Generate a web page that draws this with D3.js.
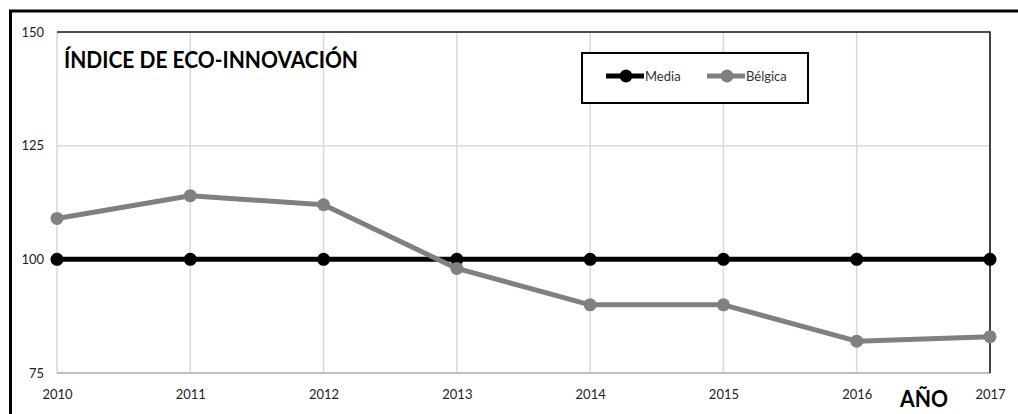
<!DOCTYPE html>
<html>
<head>
<meta charset="utf-8">
<script src="https://cdn.jsdelivr.net/npm/d3@7"></script>
<style>
  html, body { margin: 0; padding: 0; background: #fff; }
  svg { display: block; }
  text { font-family: Lato, "Open Sans", sans-serif; }
</style>
</head>
<body>
<svg id="chart" width="1018" height="414"></svg>
<script>
// Eco-innovation index, Belgium vs. average (=100)
const years = [2010, 2011, 2012, 2013, 2014, 2015, 2016, 2017];
const media = [100, 100, 100, 100, 100, 100, 100, 100];
const belgica = [109, 114, 112, 98, 90, 90, 82, 83];
const yTicks = [75, 100, 125, 150];
const seriesNames = ["Media", "Bélgica"];
const seriesColors = ["#000000", "#808080"];

const svg = d3.select("#chart");
const W = 1018, H = 414;

// outer frame (runs off right and bottom edge)
svg.append("path")
  .attr("d", `M10.5,${H + 5} V11 H${W + 5}`)
  .attr("fill", "none").attr("stroke", "#000").attr("stroke-width", 3);

const x = d3.scalePoint().domain(years).range([57, 990]);
const y = d3.scaleLinear().domain([75, 150]).range([373, 32]);

// gridlines
const grid = svg.append("g");
grid.selectAll("line.v").data(years).join("line")
  .attr("x1", d => x(d)).attr("x2", d => x(d))
  .attr("y1", y(150)).attr("y2", y(75))
  .attr("stroke", "#d9d9d9").attr("stroke-width", 1.5);
grid.selectAll("line.h").data(yTicks).join("line")
  .attr("x1", x(2010)).attr("x2", x(2017))
  .attr("y1", d => y(d)).attr("y2", d => y(d))
  .attr("stroke", "#d9d9d9").attr("stroke-width", 1.5);

// bottom axis line
svg.append("line")
  .attr("x1", x(2010)).attr("x2", x(2017))
  .attr("y1", y(75)).attr("y2", y(75))
  .attr("stroke", "#bfbfbf").attr("stroke-width", 2);
// top and right border of plot
svg.append("path")
  .attr("d", `M${x(2010)},${y(150)} H${x(2017)} V${y(75)}`)
  .attr("fill", "none").attr("stroke", "#1a1a1a").attr("stroke-width", 1.6);

// y-axis labels
const yAxis = d3.axisLeft(y).tickValues(yTicks).tickSize(0).tickPadding(0);
const ya = svg.append("g").attr("transform", "translate(44,0)").call(yAxis);
ya.select(".domain").remove();
ya.selectAll("text").attr("font-size", 13).attr("fill", "#222")
  .style("font-family", "Lato, 'Open Sans', sans-serif");

// x-axis labels
const xAxis = d3.axisBottom(x).tickSize(0).tickPadding(0).tickFormat(d3.format("d"));
const xa = svg.append("g").attr("transform", `translate(0,${y(75) + 17})`).call(xAxis);
xa.select(".domain").remove();
xa.selectAll("text").attr("font-size", 13).attr("fill", "#222")
  .style("font-family", "Lato, 'Open Sans', sans-serif");

// series
const series = [media, belgica];
const line = d3.line().x((d, i) => x(years[i])).y(d => y(d));
series.forEach((vals, k) => {
  const g = svg.append("g");
  g.append("path").datum(vals)
    .attr("d", line).attr("fill", "none")
    .attr("stroke", seriesColors[k]).attr("stroke-width", 5)
    .attr("stroke-linejoin", "round");
  g.selectAll("circle").data(vals).join("circle")
    .attr("cx", (d, i) => x(years[i])).attr("cy", d => y(d))
    .attr("r", 6.5).attr("fill", seriesColors[k]);
});

// title
svg.append("text")
  .attr("x", 64).attr("y", 68)
  .attr("font-size", 22).attr("font-weight", 700)
  .attr("textLength", 294).attr("lengthAdjust", "spacingAndGlyphs")
  .text("ÍNDICE DE ECO-INNOVACIÓN");

// x-axis title
svg.append("text")
  .attr("x", 900).attr("y", 407)
  .attr("font-size", 23).attr("font-weight", 700)
  .attr("textLength", 48).attr("lengthAdjust", "spacingAndGlyphs")
  .text("AÑO");

// legend
const lg = svg.append("g");
lg.append("rect").attr("x", 582).attr("y", 53).attr("width", 226).attr("height", 50)
  .attr("fill", "#fff").attr("stroke", "#000").attr("stroke-width", 2);
const legendX = [606, 707];
seriesNames.forEach((name, k) => {
  const lx = legendX[k];
  lg.append("line").attr("x1", lx).attr("x2", lx + 38).attr("y1", 76).attr("y2", 76)
    .attr("stroke", seriesColors[k]).attr("stroke-width", 5);
  lg.append("circle").attr("cx", lx + 20).attr("cy", 76).attr("r", 6.5).attr("fill", seriesColors[k]);
  lg.append("text").attr("x", lx + 39).attr("y", 80.5)
    .attr("font-size", 13).attr("fill", "#333").text(name);
});
</script>
</body>
</html>
